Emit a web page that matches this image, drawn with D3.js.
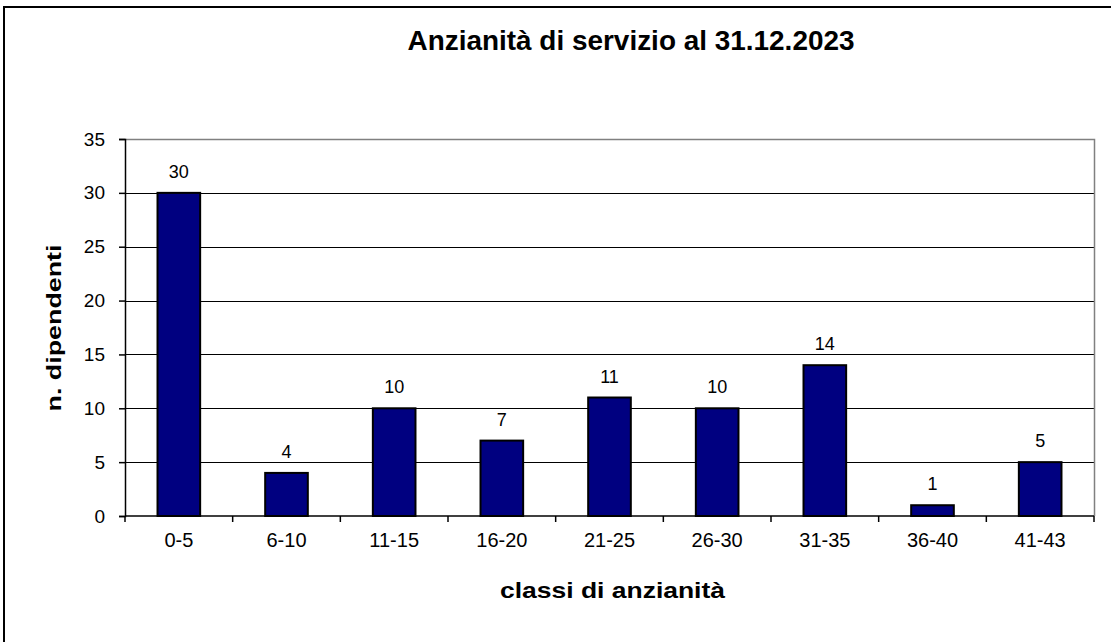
<!DOCTYPE html>
<html>
<head>
<meta charset="utf-8">
<script src="https://cdn.jsdelivr.net/npm/d3@7"></script>
<style>
  html, body { margin: 0; padding: 0; background: #fff; }
  svg { display: block; font-family: "Liberation Sans", Arial, sans-serif; }
</style>
</head>
<body>
<svg id="chart" width="1111" height="642"></svg>
<script>
const categories = ["0-5", "6-10", "11-15", "16-20", "21-25", "26-30", "31-35", "36-40", "41-43"];
const values = [30, 4, 10, 7, 11, 10, 14, 1, 5];
const yTicks = [0, 5, 10, 15, 20, 25, 30, 35];
const titleText = "Anzianità di servizio al 31.12.2023";
const xTitle = "classi di anzianità";
const yTitle = "n. dipendenti";

const svg = d3.select("#chart");
const W = 1111, H = 642;
const m = { left: 125, right: 1094, top: 139, bottom: 516 };

svg.append("rect").attr("width", W).attr("height", H).attr("fill", "#fff");
// outer chart border (extends beyond the picture on right/bottom)
svg.append("rect").attr("x", 4).attr("y", 7).attr("width", 1200).attr("height", 700)
  .attr("fill", "none").attr("stroke", "#000").attr("stroke-width", 2);

const x = d3.scaleBand().domain(categories).range([m.left, m.right])
  .paddingInner(0.604).paddingOuter(0.302);
const y = d3.scaleLinear().domain([0, 35]).range([m.bottom, m.top]);

// gridlines
svg.append("g").selectAll("line").data(yTicks.filter(d => d > 0 && d < 35)).join("line")
  .attr("x1", m.left).attr("x2", m.right)
  .attr("y1", d => Math.round(y(d)) + 0.5).attr("y2", d => Math.round(y(d)) + 0.5)
  .attr("stroke", "#000").attr("stroke-width", 1);

// plot frame top/right (gray)
svg.append("path")
  .attr("d", `M${m.left},${Math.round(y(35)) + 0.5}H${m.right + 0.5}V${m.bottom}`)
  .attr("fill", "none").attr("stroke", "#808080").attr("stroke-width", 1.5);

// bars
svg.append("g").selectAll("rect").data(values).join("rect")
  .attr("x", (d, i) => x(categories[i]))
  .attr("y", d => y(d))
  .attr("width", x.bandwidth())
  .attr("height", d => y(0) - y(d))
  .attr("fill", "#000080").attr("stroke", "#000").attr("stroke-width", 2);

// value labels
svg.append("g").selectAll("text").data(values).join("text")
  .attr("x", (d, i) => x(categories[i]) + x.bandwidth() / 2)
  .attr("y", d => y(d) - 15)
  .attr("text-anchor", "middle")
  .attr("font-size", 18).attr("fill", "#000")
  .text(d => d);

// y axis
const yAxis = svg.append("g").attr("transform", `translate(${m.left},0)`)
  .call(d3.axisLeft(y).tickValues(yTicks).tickSize(6).tickPadding(14));
yAxis.select(".domain").attr("stroke", "#000").attr("stroke-width", 1.5);
yAxis.selectAll(".tick line").attr("stroke", "#000").attr("stroke-width", 1.5);
yAxis.selectAll(".tick text").attr("font-size", 19).attr("fill", "#000")
  .attr("font-family", "Liberation Sans, Arial, sans-serif");

// x axis: labels
const xAxis = svg.append("g").attr("transform", `translate(0,${m.bottom})`)
  .call(d3.axisBottom(x).tickSize(0).tickPadding(17));
xAxis.select(".domain").remove();
xAxis.selectAll(".tick text").attr("font-size", 20).attr("fill", "#000")
  .attr("font-family", "Liberation Sans, Arial, sans-serif");

// x axis baseline and boundary ticks
const xb = d3.scaleLinear().domain([0, categories.length]).range([m.left, m.right]);
svg.append("line").attr("x1", m.left).attr("x2", m.right)
  .attr("y1", m.bottom).attr("y2", m.bottom)
  .attr("stroke", "#000").attr("stroke-width", 1.5);
svg.append("g").selectAll("line").data(d3.range(categories.length + 1)).join("line")
  .attr("x1", d => xb(d)).attr("x2", d => xb(d))
  .attr("y1", m.bottom).attr("y2", m.bottom + 6)
  .attr("stroke", "#000").attr("stroke-width", 1.5);

// titles
svg.append("text").attr("x", 631).attr("y", 50).attr("text-anchor", "middle")
  .attr("font-size", 28).attr("font-weight", "bold")
  .attr("textLength", 447).attr("lengthAdjust", "spacingAndGlyphs")
  .text(titleText);

svg.append("text").attr("x", 612.5).attr("y", 598).attr("text-anchor", "middle")
  .attr("font-size", 22).attr("font-weight", "bold")
  .attr("textLength", 225).attr("lengthAdjust", "spacingAndGlyphs")
  .text(xTitle);

svg.append("text").attr("transform", "translate(61,328) rotate(-90)")
  .attr("text-anchor", "middle")
  .attr("font-size", 21).attr("font-weight", "bold")
  .attr("textLength", 167).attr("lengthAdjust", "spacingAndGlyphs")
  .text(yTitle);
</script>
</body>
</html>
